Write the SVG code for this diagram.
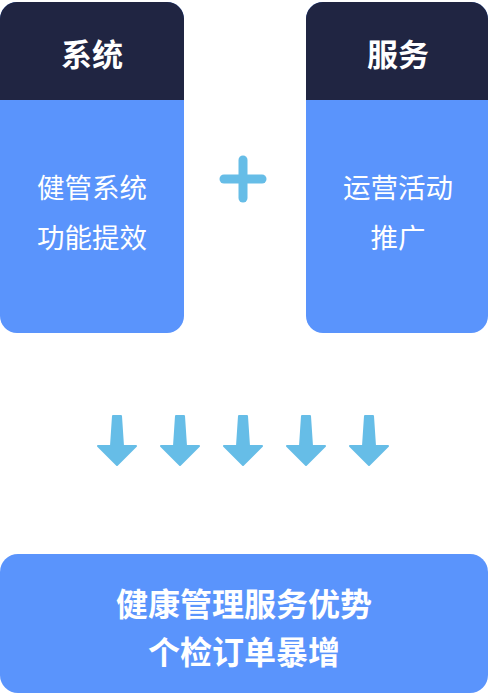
<svg xmlns="http://www.w3.org/2000/svg" width="490" height="696" viewBox="0 0 490 696">
<style>
.card{fill:#5A94FC}
.head{fill:#202542}
.t{font-family:"Noto Sans CJK SC","Noto Sans",sans-serif;fill:#fff;text-anchor:middle;dominant-baseline:central}
.title{font-size:31px;font-weight:600}
.body{font-size:27.5px}
.big{font-size:32px;font-weight:600}
.arrow{fill:#66BDE7;stroke:#66BDE7;stroke-width:2;stroke-linejoin:round}
</style>
<defs>
<clipPath id="cl"><rect x="0" y="2" width="184" height="331" rx="17"/></clipPath>
<clipPath id="cr"><rect x="306" y="2" width="182" height="331" rx="17"/></clipPath>
<path id="arr" d="M-4,416 L4,416 L6,446 L19,446 L0,465 L-19,446 L-6,446 Z"/>
</defs>
<g id="system">
<g clip-path="url(#cl)">
<rect class="card" x="0" y="2" width="184" height="331"/>
<rect class="head" x="0" y="2" width="184" height="98"/>
</g>
<text class="t title" x="92" y="52">系统</text>
<text class="t body" x="92" y="186">健管系统</text>
<text class="t body" x="92" y="236">功能提效</text>
</g>
<g id="plus">
<line x1="224" y1="179" x2="262" y2="179" stroke="#66BDE7" stroke-width="9" stroke-linecap="round"/>
<line x1="243" y1="160" x2="243" y2="198" stroke="#66BDE7" stroke-width="9" stroke-linecap="round"/>
</g>
<g id="service">
<g clip-path="url(#cr)">
<rect class="card" x="306" y="2" width="182" height="331"/>
<rect class="head" x="306" y="2" width="182" height="98"/>
</g>
<text class="t title" x="398" y="52">服务</text>
<text class="t body" x="398" y="186">运营活动</text>
<text class="t body" x="398" y="236">推广</text>
</g>
<g id="connectors">
<use href="#arr" class="arrow" x="117"/>
<use href="#arr" class="arrow" x="180"/>
<use href="#arr" class="arrow" x="243"/>
<use href="#arr" class="arrow" x="306"/>
<use href="#arr" class="arrow" x="369"/>
</g>
<g id="result">
<rect class="card" x="0" y="554" width="488" height="139" rx="18"/>
<text class="t big" x="244" y="602">健康管理服务优势</text>
<text class="t big" x="244" y="650">个检订单暴增</text>
</g>
</svg>
